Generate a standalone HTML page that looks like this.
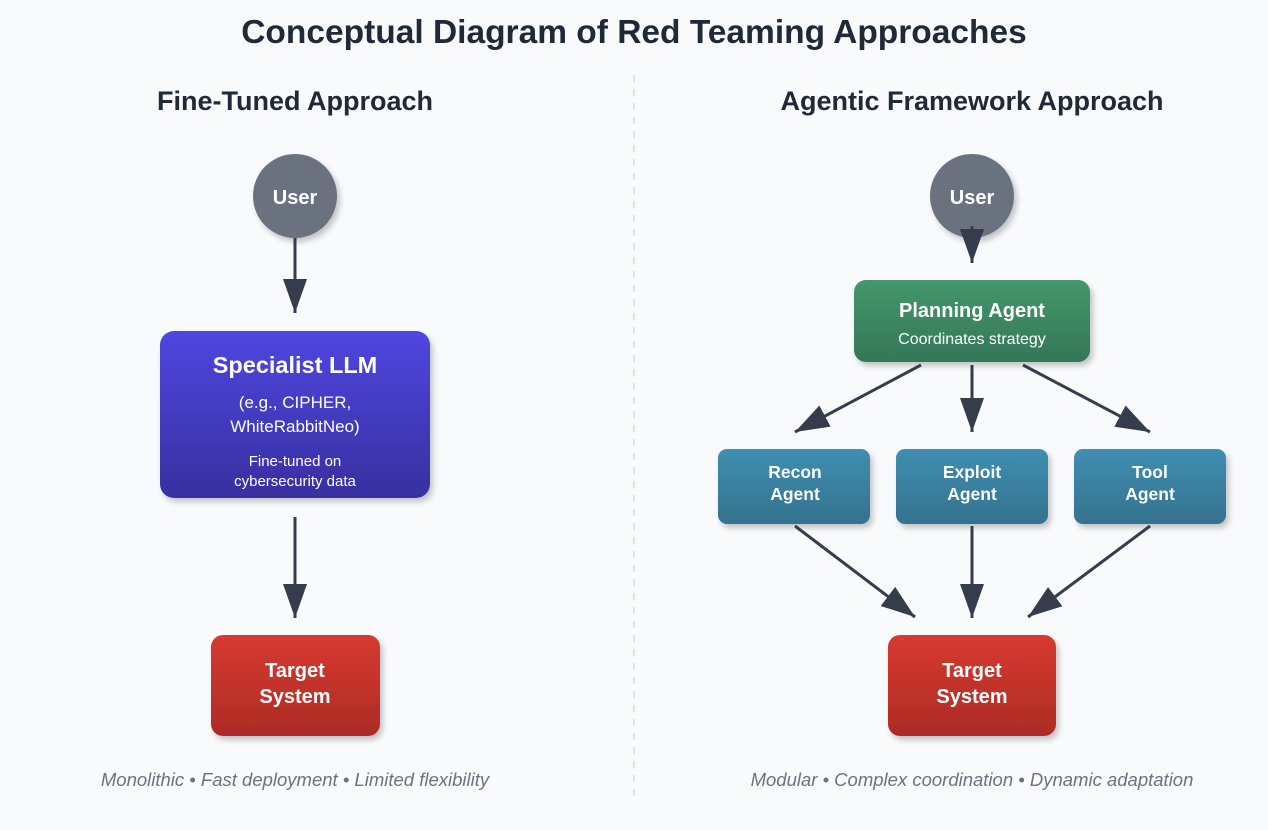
<!DOCTYPE html>
<html><head><meta charset="utf-8"><style>
html,body{margin:0;padding:0;background:#f8fafc;}
svg{display:block;font-family:"Liberation Sans",Arial,sans-serif;}
</style></head><body>
<svg width="1268" height="830" viewBox="0 0 1268 830" xmlns="http://www.w3.org/2000/svg">
<defs>
<marker id="ah" markerUnits="userSpaceOnUse" markerWidth="36" markerHeight="28" refX="34" refY="14" orient="auto">
<path d="M0,2 L34,14 L0,26 Z" fill="#353d4d"/>
</marker>
<linearGradient id="gP" x1="0" y1="0" x2="0" y2="1"><stop offset="0" stop-color="#4f46e0"/><stop offset="1" stop-color="#3730a0"/></linearGradient>
<linearGradient id="gR" x1="0" y1="0" x2="0" y2="1"><stop offset="0" stop-color="#d73a30"/><stop offset="1" stop-color="#ad2b25"/></linearGradient>
<linearGradient id="gG" x1="0" y1="0" x2="0" y2="1"><stop offset="0" stop-color="#44976c"/><stop offset="1" stop-color="#347757"/></linearGradient>
<linearGradient id="gB" x1="0" y1="0" x2="0" y2="1"><stop offset="0" stop-color="#408eb0"/><stop offset="1" stop-color="#34728f"/></linearGradient>
<filter id="sh" x="-20%" y="-20%" width="140%" height="150%"><feDropShadow dx="3" dy="4" stdDeviation="3" flood-color="#000" flood-opacity="0.22"/></filter>
</defs>
<text x="634" y="43" text-anchor="middle" font-size="33.5" font-weight="bold" fill="#1f2937">Conceptual Diagram of Red Teaming Approaches</text>
<line x1="634" y1="75" x2="634" y2="797" stroke="#e0e3e8" stroke-width="2" stroke-dasharray="7,7"/>
<text x="295" y="110" text-anchor="middle" font-size="27" font-weight="bold" fill="#1f2937">Fine-Tuned Approach</text>
<text x="972" y="110" text-anchor="middle" font-size="27" font-weight="bold" fill="#1f2937">Agentic Framework Approach</text>

<!-- left -->
<circle cx="295" cy="196" r="42" fill="#6b7280" filter="url(#sh)"/>
<text x="295" y="204" text-anchor="middle" font-size="20" font-weight="bold" fill="#fff">User</text>
<line x1="295" y1="238" x2="295" y2="313" stroke="#353d4d" stroke-width="3" marker-end="url(#ah)"/>
<rect x="160" y="331" width="270" height="167" rx="14" fill="url(#gP)" filter="url(#sh)"/>
<text x="295" y="373" text-anchor="middle" font-size="23.5" font-weight="bold" fill="#fff">Specialist LLM</text>
<text x="295" y="408" text-anchor="middle" font-size="17" fill="#fff">(e.g., CIPHER,</text>
<text x="295" y="432" text-anchor="middle" font-size="17" fill="#fff">WhiteRabbitNeo)</text>
<text x="295" y="466" text-anchor="middle" font-size="15" fill="#fff">Fine-tuned on</text>
<text x="295" y="486" text-anchor="middle" font-size="15" fill="#fff">cybersecurity data</text>
<line x1="295" y1="517" x2="295" y2="618" stroke="#353d4d" stroke-width="3" marker-end="url(#ah)"/>
<rect x="211" y="635" width="169" height="101" rx="12" fill="url(#gR)" filter="url(#sh)"/>
<text x="295" y="677" text-anchor="middle" font-size="20" font-weight="bold" fill="#fff">Target</text>
<text x="295" y="703" text-anchor="middle" font-size="20" font-weight="bold" fill="#fff">System</text>
<text x="295" y="786" text-anchor="middle" font-size="18.5" font-style="italic" fill="#6b7280">Monolithic • Fast deployment • Limited flexibility</text>

<!-- right -->
<circle cx="972" cy="196" r="42" fill="#6b7280" filter="url(#sh)"/>
<text x="972" y="204" text-anchor="middle" font-size="20" font-weight="bold" fill="#fff">User</text>
<line x1="972" y1="226" x2="972" y2="263" stroke="#353d4d" stroke-width="3" marker-end="url(#ah)"/>
<rect x="854" y="280" width="236" height="82" rx="12" fill="url(#gG)" filter="url(#sh)"/>
<text x="972" y="317" text-anchor="middle" font-size="20" font-weight="bold" fill="#fff">Planning Agent</text>
<text x="972" y="344" text-anchor="middle" font-size="16" fill="#fff">Coordinates strategy</text>
<line x1="921" y1="365" x2="795" y2="432" stroke="#353d4d" stroke-width="3" marker-end="url(#ah)"/>
<line x1="972" y1="365" x2="972" y2="432" stroke="#353d4d" stroke-width="3" marker-end="url(#ah)"/>
<line x1="1023" y1="365" x2="1150" y2="432" stroke="#353d4d" stroke-width="3" marker-end="url(#ah)"/>
<rect x="718" y="449" width="152" height="75" rx="9" fill="url(#gB)" filter="url(#sh)"/>
<rect x="896" y="449" width="152" height="75" rx="9" fill="url(#gB)" filter="url(#sh)"/>
<rect x="1074" y="449" width="152" height="75" rx="9" fill="url(#gB)" filter="url(#sh)"/>
<g font-size="17.5" font-weight="bold" fill="#fff" text-anchor="middle">
<text x="795" y="478">Recon</text><text x="795" y="500">Agent</text>
<text x="972" y="478">Exploit</text><text x="972" y="500">Agent</text>
<text x="1150" y="478">Tool</text><text x="1150" y="500">Agent</text>
</g>
<line x1="795" y1="526" x2="915" y2="617" stroke="#353d4d" stroke-width="3" marker-end="url(#ah)"/>
<line x1="972" y1="526" x2="972" y2="618" stroke="#353d4d" stroke-width="3" marker-end="url(#ah)"/>
<line x1="1150" y1="526" x2="1028" y2="617" stroke="#353d4d" stroke-width="3" marker-end="url(#ah)"/>
<rect x="888" y="635" width="168" height="101" rx="12" fill="url(#gR)" filter="url(#sh)"/>
<text x="972" y="677" text-anchor="middle" font-size="20" font-weight="bold" fill="#fff">Target</text>
<text x="972" y="703" text-anchor="middle" font-size="20" font-weight="bold" fill="#fff">System</text>
<text x="972" y="786" text-anchor="middle" font-size="18.5" font-style="italic" fill="#6b7280">Modular • Complex coordination • Dynamic adaptation</text>
</svg>
</body></html>
